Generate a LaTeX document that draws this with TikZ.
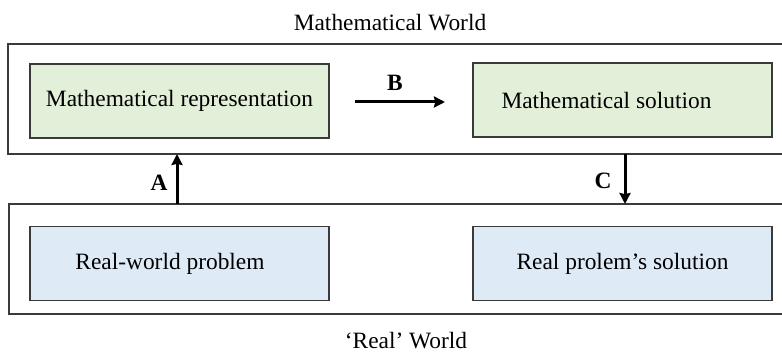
\documentclass[tikz,border=0pt]{standalone}
\usepackage{fontspec}
\setmainfont{Liberation Serif}
\usetikzlibrary{arrows.meta}
\definecolor{greenfill}{HTML}{E2EFD9}
\definecolor{bluefill}{HTML}{DEEAF6}
\definecolor{edge}{HTML}{3A3A3A}
\begin{document}
\begin{tikzpicture}[x=0.5pt,y=-0.5pt,
  font=\fontsize{11.7}{14}\selectfont,
  world/.style={draw=edge,line width=1pt},
  innerbox/.style={draw=edge,line width=0.9pt,minimum width=149.5pt,minimum height=37pt,inner sep=0pt},
  mathbox/.style={innerbox,fill=greenfill},
  realbox/.style={innerbox,fill=bluefill},
  flow/.style={draw=black,line width=1.5pt,-{Stealth[length=5.5pt,width=5.5pt,inset=0.6pt]}},
  steplabel/.style={font=\fontsize{11.7}{14}\selectfont\bfseries,inner sep=0pt}]
\useasboundingbox (0,0) rectangle (782,352);
% outer world frames (open on the right)
\draw[world] (782,44) -- (8,44) -- (8,154) -- (782,154);
\draw[world] (782,204) -- (9,204) -- (9,314) -- (782,314);
\coordinate (topA) at (177,154);
\coordinate (botA) at (177,204);
\coordinate (topC) at (625,154);
\coordinate (botC) at (625,204);
% titles
\node[inner sep=0pt] (mw) at (390,23) {Mathematical World};
\node[inner sep=0pt] (rw) at (406,341) {‘Real’ World};
% boxes
\node[mathbox] (rep) at (179.5,101) {Mathematical representation};
\node[mathbox] (sol) at (622.5,100) {Mathematical solution\kern16pt};
\node[realbox] (prob) at (179.5,263.5) {Real-world problem\kern9.5pt};
\node[realbox] (rsol) at (622.5,263.5) {Real prolem’s solution};
% arrows
\coordinate (bstart) at (355,102);
\coordinate (bend) at (445,102);
\draw[flow] (bstart) -- (bend);
\draw[flow] (botA) -- (topA);
\draw[flow] (topC) -- (botC);
\node[steplabel] (lb) at (395,83) {B};
\node[steplabel] (la) at (159,183) {A};
\node[steplabel] (lc) at (603,181) {C};
\end{tikzpicture}
\end{document}
